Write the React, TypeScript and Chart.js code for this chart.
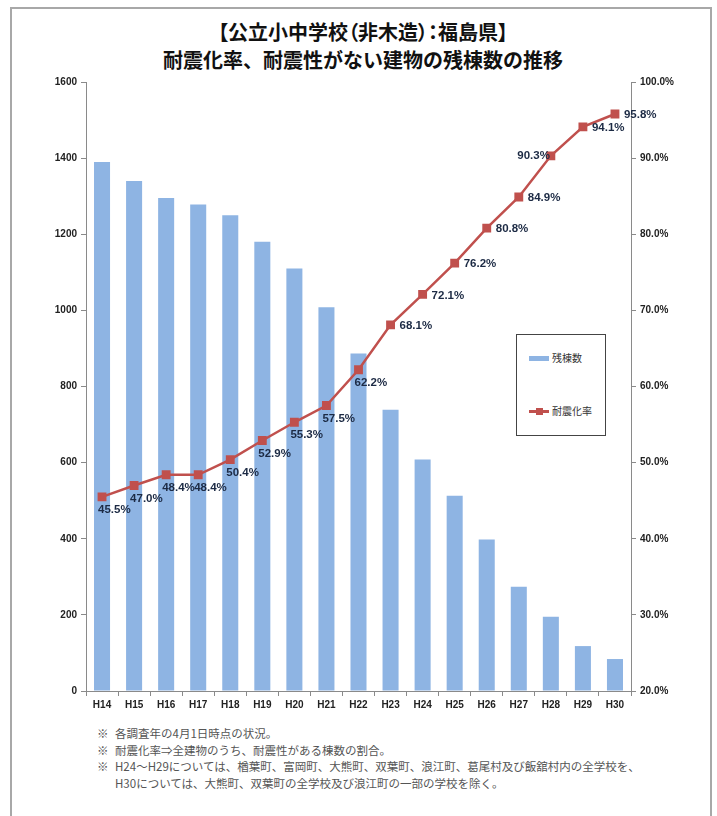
import React, { useEffect, useRef } from "react";
import { Chart, registerables } from "chart.js";

Chart.register(...registerables);

const categories = ["H14", "H15", "H16", "H17", "H18", "H19", "H20", "H21", "H22", "H23", "H24", "H25", "H26", "H27", "H28", "H29", "H30"];
const remainingBuildings = [1390, 1340, 1295, 1278, 1250, 1180, 1110, 1008, 887, 739, 608, 513, 398, 274, 195, 118, 84];
const seismicRate = [45.5, 47.0, 48.4, 48.4, 50.4, 52.9, 55.3, 57.5, 62.2, 68.1, 72.1, 76.2, 80.8, 84.9, 90.3, 94.1, 95.8];
const labelPlacement = ["below", "below", "below", "below", "below", "below", "below", "below", "below", "right", "right", "right", "right", "right", "left", "right", "right"];
const leftTicks = [0, 200, 400, 600, 800, 1000, 1200, 1400, 1600];
const rightTicks = [20, 30, 40, 50, 60, 70, 80, 90, 100];
const barLabel = "残棟数";
const lineLabel = "耐震化率";
const titleLines = ["【公立小中学校（非木造）：福島県】", "耐震化率、耐震性がない建物の残棟数の推移"];
const notes = [
  ["※", "各調査年の4月1日時点の状況。"],
  ["※", "耐震化率⇒全建物のうち、耐震性がある棟数の割合。"],
  ["※", "H24～H29については、楢葉町、富岡町、大熊町、双葉町、浪江町、葛尾村及び飯舘村内の全学校を、"],
  ["", "H30については、大熊町、双葉町の全学校及び浪江町の一部の学校を除く。"],
];

const BAR_COLOR = "#8EB4E3";
const LINE_COLOR = "#C0504D";
const TICK_FONT = { family: "'Liberation Sans', Arial, sans-serif", size: 10, weight: "bold" as const };

const pointLabelPlugin = {
  id: "pointLabels",
  afterDatasetsDraw(chart: any) {
    const ctx = chart.ctx;
    const meta = chart.getDatasetMeta(0);
    ctx.save();
    ctx.font = "bold 11.5px 'Liberation Sans', Arial, sans-serif";
    ctx.fillStyle = "#1C2A44";
    ctx.textBaseline = "middle";
    meta.data.forEach((pt: any, i: number) => {
      const text = seismicRate[i].toFixed(1) + "%";
      const pos = labelPlacement[i];
      if (pos === "below") {
        ctx.textAlign = "left";
        ctx.fillText(text, pt.x - 4, pt.y + 13);
      } else if (pos === "left") {
        ctx.textAlign = "right";
        ctx.fillText(text, pt.x - 1, pt.y);
      } else {
        ctx.textAlign = "left";
        ctx.fillText(text, pt.x + 9, pt.y + 1);
      }
    });
    ctx.restore();
  },
};

export default function App() {
  const ref = useRef<HTMLCanvasElement>(null);

  useEffect(() => {
    if (!ref.current) return;
    const chart = new Chart(ref.current, {
      type: "bar",
      data: {
        labels: categories,
        datasets: [
          {
            type: "line",
            label: lineLabel,
            data: seismicRate,
            yAxisID: "y1",
            borderColor: LINE_COLOR,
            backgroundColor: LINE_COLOR,
            borderWidth: 2.5,
            pointStyle: "rect",
            pointRadius: 4.5,
            pointBackgroundColor: LINE_COLOR,
            pointBorderColor: LINE_COLOR,
            tension: 0,
            order: 0,
          } as any,
          {
            type: "bar",
            label: barLabel,
            data: remainingBuildings,
            yAxisID: "y",
            backgroundColor: BAR_COLOR,
            barPercentage: 0.5,
            categoryPercentage: 1,
            order: 1,
          },
        ],
      },
      options: {
        responsive: false,
        animation: false,
        layout: { padding: { left: 10, right: 26, top: 82, bottom: 0 } },
        plugins: { legend: { display: false }, tooltip: { enabled: false }, title: { display: false } },
        scales: {
          x: {
            grid: { offset: true, drawOnChartArea: false, drawTicks: true, tickLength: 5, color: "#8a8a8a" },
            border: { color: "#8a8a8a", width: 1 },
            ticks: { font: TICK_FONT, color: "#222", padding: 3, maxRotation: 0, autoSkip: false },
            afterFit: (s: any) => { s.height = 29; },
          },
          y: {
            position: "left",
            min: 0,
            max: 1600,
            afterBuildTicks: (s: any) => { s.ticks = leftTicks.map((v) => ({ value: v })); },
            grid: { drawOnChartArea: false, tickLength: 5, color: "#8a8a8a" },
            border: { color: "#8a8a8a", width: 1 },
            ticks: { font: TICK_FONT, color: "#222", padding: 4, callback: (v: any) => String(v) },
            afterFit: (s: any) => { s.width = 76; },
          },
          y1: {
            position: "right",
            min: 20,
            max: 100,
            afterBuildTicks: (s: any) => { s.ticks = rightTicks.map((v) => ({ value: v })); },
            grid: { drawOnChartArea: false, tickLength: 5, color: "#8a8a8a" },
            border: { color: "#8a8a8a", width: 1 },
            ticks: { font: TICK_FONT, color: "#222", padding: 4, callback: (v: any) => Number(v).toFixed(1) + "%" },
            afterFit: (s: any) => { s.width = 60; },
          },
        },
      },
      plugins: [pointLabelPlugin],
    });
    return () => chart.destroy();
  }, []);

  const cjk = "'Noto Sans CJK JP', 'Noto Sans', sans-serif";

  return (
    <div style={{ position: "absolute", left: 0, top: 0, width: 717, height: 816, overflow: "hidden", background: "#fff" }}>
      <div style={{ position: "absolute", left: 10, top: 7, width: 698, height: 840, border: "2px solid #a8a8a8" }} />
      <div style={{ position: "absolute", left: 10, top: 18, width: 706, textAlign: "center", fontFamily: cjk, fontWeight: 700, fontSize: 20, lineHeight: "28px", color: "#111" }}>
        {titleLines.map((t, i) => (<div key={i} style={{ fontFeatureSettings: i === 0 ? '"palt"' : "normal" }}>{t}</div>))}
      </div>
      <canvas ref={ref} width={717} height={720} style={{ position: "absolute", left: 0, top: 0, width: 717, height: 720 }} />
      <div style={{ position: "absolute", left: 516, top: 334, width: 88, height: 100, border: "1.5px solid #444", background: "#fff", fontFamily: cjk, fontSize: 10, color: "#333" }}>
        <div style={{ position: "absolute", left: 12, top: 21, width: 20, height: 5, background: BAR_COLOR }} />
        <div style={{ position: "absolute", left: 35, top: 15, lineHeight: "16px" }}>{barLabel}</div>
        <div style={{ position: "absolute", left: 12, top: 75, width: 20, height: 2.5, background: LINE_COLOR }} />
        <div style={{ position: "absolute", left: 18.5, top: 72.5, width: 7, height: 7, background: LINE_COLOR }} />
        <div style={{ position: "absolute", left: 35, top: 68, lineHeight: "16px" }}>{lineLabel}</div>
      </div>
      <div style={{ position: "absolute", left: 97, top: 725, fontFamily: cjk, fontSize: 11.5, lineHeight: "16.7px", color: "#555", whiteSpace: "nowrap" }}>
        {notes.map((n, i) => (
          <div key={i}>
            <span style={{ display: "inline-block", width: 18 }}>{n[0]}</span>
            <span>{n[1]}</span>
          </div>
        ))}
      </div>
    </div>
  );
}
